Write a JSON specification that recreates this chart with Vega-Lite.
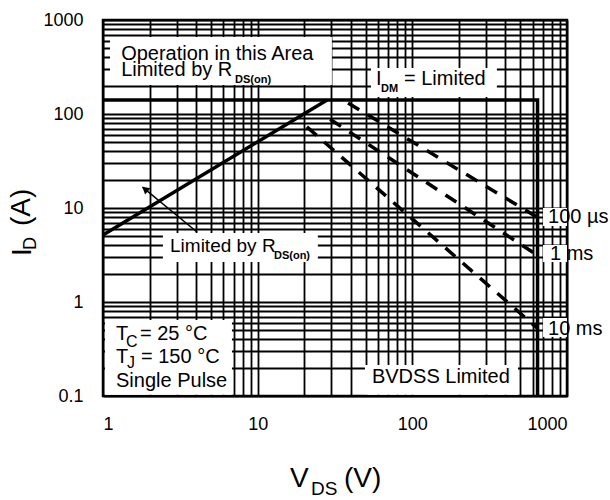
{
  "$schema": "https://vega.github.io/schema/vega-lite/v6.json",
  "width": 464,
  "height": 376,
  "autosize": {"type": "none"},
  "padding": {"left": 103, "top": 20, "right": 43, "bottom": 104},
  "background": "white",
  "config": {
    "view": {"stroke": "black", "strokeWidth": 2.5},
    "font": "Liberation Sans",
    "text": {"font": "Liberation Sans", "color": "black"},
    "axis": {
      "grid": true,
      "gridColor": "#000000",
      "gridWidth": 1.8,
      "gridOpacity": 1,
      "domain": false,
      "ticks": false,
      "tickSize": 0,
      "labelFont": "Liberation Sans",
      "labelFontSize": 18,
      "labelColor": "#000000",
      "labelOverlap": false,
      "title": null
    },
    "axisX": {"labelPadding": 19},
    "axisY": {"labelPadding": 20}
  },
  "datasets": {
    "solid": [
      {"series": "rds", "order": 1, "v": 1, "i": 5.16},
      {"series": "rds", "order": 2, "v": 28.1, "i": 141},
      {"series": "lim", "order": 1, "v": 1, "i": 141},
      {"series": "lim", "order": 2, "v": 645, "i": 141},
      {"series": "lim", "order": 3, "v": 645, "i": 0.1}
    ],
    "dashed": [
      {"series": "100us", "v": 38.4, "i": 131},
      {"series": "100us", "v": 640, "i": 8.0},
      {"series": "1ms", "v": 29.4, "i": 88},
      {"series": "1ms", "v": 640, "i": 3.16},
      {"series": "10ms", "v": 20.8, "i": 73},
      {"series": "10ms", "v": 640, "i": 0.53}
    ],
    "arrow": [
      {"v": 4.05, "i": 5.555},
      {"v": 1.80, "i": 16.7}
    ],
    "arrowhead": [
      {"v": 1.869, "i": 15.92}
    ],
    "boxes": [
      {"v": 1.11, "v2": 30.2, "i": 203.5, "i2": 659},
      {"v": 54, "v2": 352, "i": 151.8, "i2": 308},
      {"v": 2.44, "v2": 24.5, "i": 2.66, "i2": 5.42},
      {"v": 1.03, "v2": 6.82, "i": 0.103, "i2": 0.643},
      {"v": 49.4, "v2": 482, "i": 0.103, "i2": 0.214},
      {"v": 700, "v2": 1000, "i": 6.43, "i2": 10},
      {"v": 700, "v2": 1000, "i": 2.66, "i2": 4.04},
      {"v": 700, "v2": 1000, "i": 0.425, "i2": 0.676}
    ],
    "t20": [
      {"t": "Operation in this Area", "v": 1.31, "i": 375.5},
      {"t": "Limited by R", "v": 1.31, "i": 253.6},
      {"t": "I", "v": 58.2, "i": 203.5},
      {"t": "= Limited", "v": 88.3, "i": 203.5},
      {"t": "T", "v": 1.214, "i": 0.394},
      {"t": "= 25 °C", "v": 1.735, "i": 0.394},
      {"t": "T", "v": 1.214, "i": 0.2244},
      {"t": "= 150 °C", "v": 1.76, "i": 0.2244},
      {"t": "Single Pulse", "v": 1.214, "i": 0.1247},
      {"t": "BVDSS Limited", "v": 54.8, "i": 0.1375},
      {"t": "100 µs", "v": 754, "i": 6.92},
      {"t": "1 ms", "v": 776, "i": 2.80},
      {"t": "10 ms", "v": 754, "i": 0.446}
    ],
    "t19": [
      {"t": "Limited by R", "v": 2.712, "i": 3.404}
    ],
    "subsmall": [
      {"t": "DS(on)", "v": 7.14, "i": 213.7},
      {"t": "DS(on)", "v": 12.75, "i": 2.867},
      {"t": "DM", "v": 62.7, "i": 171.5}
    ],
    "sub16": [
      {"t": "C", "v": 1.408, "i": 0.332},
      {"t": "J", "v": 1.429, "i": 0.1986}
    ],
    "xtitle": [
      {"t": "V", "v": 16.18, "i": 0.01076},
      {"t": "(V)", "v": 36.15, "i": 0.01076}
    ],
    "xtitlesub": [
      {"t": "DS", "v": 22.13, "i": 0.00885}
    ],
    "ytitle": [
      {"t": "I", "v": 0.3423, "i": 3.086},
      {"t": "(A)", "v": 0.3373, "i": 6.435}
    ],
    "ytitlesub": [
      {"t": "D", "v": 0.3688, "i": 3.574}
    ]
  },
  "encoding": {
    "x": {
      "field": "v",
      "type": "quantitative",
      "scale": {"type": "log", "domain": [1, 1000], "nice": false, "zero": false},
      "axis": {
        "values": [1, 2, 3, 4, 5, 6, 7, 8, 9, 10, 20, 30, 40, 50, 60, 70, 80, 90, 100, 200, 300, 400, 500, 600, 700, 800, 900, 1000],
        "labelExpr": "indexof([1, 10, 100, 1000], datum.value) >= 0 ? toString(datum.value) : ''"
      }
    },
    "y": {
      "field": "i",
      "type": "quantitative",
      "scale": {"type": "log", "domain": [0.1, 1000], "nice": false, "zero": false},
      "axis": {
        "values": [0.1, 0.2, 0.3, 0.4, 0.5, 0.6, 0.7, 0.8, 0.9, 1, 2, 3, 4, 5, 6, 7, 8, 9, 10, 20, 30, 40, 50, 60, 70, 80, 90, 100, 200, 300, 400, 500, 600, 700, 800, 900, 1000],
        "labelExpr": "indexof([0.1, 1, 10, 100, 1000], datum.value) >= 0 ? toString(datum.value) : ''"
      }
    }
  },
  "layer": [
    {
      "data": {"name": "boxes"},
      "mark": {"type": "rect", "fill": "white", "stroke": null},
      "encoding": {"x2": {"field": "v2"}, "y2": {"field": "i2"}}
    },
    {
      "data": {"name": "solid"},
      "mark": {"type": "line", "color": "black", "strokeWidth": 3.5, "strokeCap": "butt"},
      "encoding": {"detail": {"field": "series"}, "order": {"field": "order"}}
    },
    {
      "data": {"name": "dashed"},
      "mark": {"type": "line", "color": "black", "strokeWidth": 3.5, "strokeDash": [13, 10], "strokeCap": "butt"},
      "encoding": {"detail": {"field": "series"}}
    },
    {
      "data": {"name": "arrow"},
      "mark": {"type": "line", "color": "black", "strokeWidth": 1.5},
      "encoding": {}
    },
    {
      "data": {"name": "arrowhead"},
      "mark": {"type": "point", "shape": "triangle-up", "filled": true, "color": "black", "size": 70, "angle": 310, "opacity": 1},
      "encoding": {}
    },
    {
      "data": {"name": "t20"},
      "mark": {"type": "text", "align": "left", "baseline": "alphabetic", "fontSize": 20, "color": "black"},
      "encoding": {"text": {"field": "t"}}
    },
    {
      "data": {"name": "t19"},
      "mark": {"type": "text", "align": "left", "baseline": "alphabetic", "fontSize": 19, "color": "black"},
      "encoding": {"text": {"field": "t"}}
    },
    {
      "data": {"name": "subsmall"},
      "mark": {"type": "text", "align": "left", "baseline": "alphabetic", "fontSize": 11, "fontWeight": "bold", "color": "black"},
      "encoding": {"text": {"field": "t"}}
    },
    {
      "data": {"name": "sub16"},
      "mark": {"type": "text", "align": "left", "baseline": "alphabetic", "fontSize": 16, "color": "black"},
      "encoding": {"text": {"field": "t"}}
    },
    {
      "data": {"name": "xtitle"},
      "mark": {"type": "text", "align": "left", "baseline": "alphabetic", "fontSize": 28, "color": "black"},
      "encoding": {"text": {"field": "t"}}
    },
    {
      "data": {"name": "xtitlesub"},
      "mark": {"type": "text", "align": "left", "baseline": "alphabetic", "fontSize": 19, "color": "black"},
      "encoding": {"text": {"field": "t"}}
    },
    {
      "data": {"name": "ytitle"},
      "mark": {"type": "text", "align": "left", "baseline": "alphabetic", "fontSize": 28, "angle": 270, "color": "black"},
      "encoding": {"text": {"field": "t"}}
    },
    {
      "data": {"name": "ytitlesub"},
      "mark": {"type": "text", "align": "left", "baseline": "alphabetic", "fontSize": 18, "angle": 270, "color": "black"},
      "encoding": {"text": {"field": "t"}}
    }
  ]
}
